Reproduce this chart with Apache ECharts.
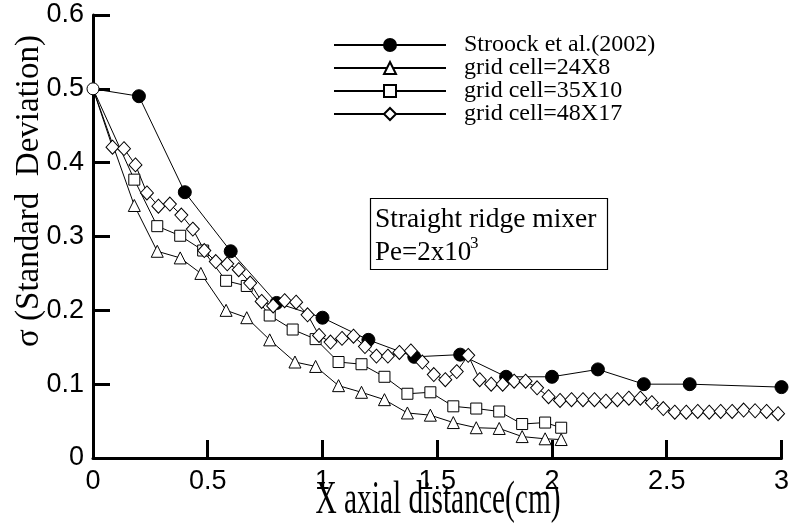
<!DOCTYPE html>
<html>
<head>
<meta charset="utf-8">
<script src="https://cdn.jsdelivr.net/npm/echarts@6/dist/echarts.min.js"></script>
<style>
html,body{margin:0;padding:0;background:#fff;}
#chart{width:792px;height:524px;}
</style>
</head>
<body>
<div id="chart"></div>
<script>
// ---- data ----
const seriesNames = ['Stroock et al.(2002)', 'grid cell=24X8', 'grid cell=35X10', 'grid cell=48X17'];

const stroockX = [0, 0.2, 0.4, 0.6, 0.8, 1.0, 1.2, 1.4, 1.6, 1.8, 2.0, 2.2, 2.4, 2.6, 3.0];
const stroockY = [0.5, 0.49, 0.36, 0.28, 0.21, 0.19, 0.16, 0.137, 0.14, 0.11, 0.11, 0.12, 0.1, 0.1, 0.096];

const grid24X = [0, 0.18, 0.28, 0.38, 0.47, 0.58, 0.67, 0.77, 0.88, 0.97, 1.07, 1.17, 1.27, 1.37, 1.47, 1.57, 1.67, 1.77, 1.87, 1.97, 2.04];
const grid24Y = [0.5, 0.342, 0.28, 0.271, 0.25, 0.2, 0.19, 0.16, 0.13, 0.124, 0.098, 0.089, 0.079, 0.061, 0.058, 0.048, 0.041, 0.04, 0.029, 0.026, 0.025];

const grid35X = [0, 0.18, 0.28, 0.38, 0.48, 0.58, 0.67, 0.77, 0.87, 0.97, 1.07, 1.17, 1.27, 1.37, 1.47, 1.57, 1.67, 1.77, 1.87, 1.97, 2.04];
const grid35Y = [0.5, 0.377, 0.314, 0.301, 0.281, 0.24, 0.233, 0.193, 0.174, 0.161, 0.13, 0.127, 0.11, 0.087, 0.089, 0.07, 0.067, 0.063, 0.046, 0.048, 0.041];

const grid48X = [0, 0.085, 0.135, 0.185, 0.235, 0.285, 0.335, 0.385, 0.435, 0.485, 0.535, 0.585, 0.635, 0.685, 0.735, 0.785, 0.835, 0.885, 0.935, 0.985,
  1.035, 1.085, 1.135, 1.185, 1.235, 1.285, 1.335, 1.385, 1.435, 1.485, 1.535, 1.585, 1.635, 1.685, 1.735, 1.785, 1.835, 1.885, 1.935, 1.985,
  2.035, 2.085, 2.135, 2.185, 2.235, 2.285, 2.335, 2.385, 2.435, 2.485, 2.535, 2.585, 2.635, 2.685, 2.735, 2.785, 2.835, 2.885, 2.935, 2.985];
const grid48Y = [0.5, 0.421, 0.419, 0.397, 0.359, 0.341, 0.344, 0.329, 0.31, 0.281, 0.266, 0.263, 0.255, 0.237, 0.212, 0.206, 0.213, 0.211, 0.194, 0.166,
  0.157, 0.162, 0.165, 0.151, 0.138, 0.138, 0.143, 0.145, 0.13, 0.113, 0.106, 0.117, 0.139, 0.106, 0.1, 0.1, 0.104, 0.104, 0.095, 0.083,
  0.078, 0.079, 0.079, 0.079, 0.077, 0.079, 0.081, 0.081, 0.075, 0.067, 0.062, 0.062, 0.063, 0.062, 0.063, 0.063, 0.065, 0.064, 0.063, 0.06];

const xTickLabels = ['0', '0.5', '1', '1.5', '2', '2.5', '3'];
const yTickLabels = ['0', '0.1', '0.2', '0.3', '0.4', '0.5', '0.6'];

// ---- build chart ----
const serif = "'Liberation Serif', 'Times New Roman', serif";
const sans = "'Liberation Sans', Arial, sans-serif";

function pairs(xs, ys, firstStyle) {
  return xs.map((x, i) => {
    if (i === 0 && firstStyle) return Object.assign({ value: [x, ys[i]] }, firstStyle);
    return [x, ys[i]];
  });
}

const openStyle = { color: '#fff', borderColor: '#000', borderWidth: 1 };

const chart = echarts.init(document.getElementById('chart'), null, { renderer: 'canvas' });
chart.setOption({
  animation: false,
  backgroundColor: '#fff',
  grid: { left: 93, right: 7, top: 15, bottom: 66, containLabel: false },
  legend: {
    left: 333, top: 33, orient: 'vertical', padding: 0,
    itemWidth: 112, itemHeight: 15, itemGap: -1,
    selectedMode: false,
    data: seriesNames,
    textStyle: { fontFamily: serif, fontSize: 24, color: '#000', lineHeight: 20, padding: [0, 0, 0, 13] }
  },
  xAxis: {
    type: 'value', min: 0, max: 3, interval: 0.5,
    axisLine: { show: true, lineStyle: { color: '#000', width: 3 } },
    axisTick: { show: true, inside: true, length: 18, lineStyle: { color: '#000', width: 3 } },
    splitLine: { show: false },
    axisLabel: {
      margin: 10, color: '#000', fontFamily: sans, fontSize: 27,
      formatter: (v) => xTickLabels[Math.round(v / 0.5)]
    }
  },
  yAxis: {
    type: 'value', min: 0, max: 0.6, interval: 0.1,
    axisLine: { show: true, lineStyle: { color: '#000', width: 3 } },
    axisTick: { show: true, inside: true, length: 17, lineStyle: { color: '#000', width: 3 } },
    splitLine: { show: false },
    axisLabel: {
      margin: 9, color: '#000', fontFamily: sans, fontSize: 27,
      formatter: (v) => yTickLabels[Math.round(v / 0.1)]
    }
  },
  series: [
    {
      name: seriesNames[0], type: 'line', symbol: 'circle', symbolSize: 13,
      itemStyle: { color: '#000', borderColor: '#000', borderWidth: 1 },
      lineStyle: { color: '#000', width: 1 },
      data: pairs(stroockX, stroockY, { itemStyle: openStyle, symbolSize: 12 })
    },
    {
      name: seriesNames[1], type: 'line', symbol: 'triangle', symbolSize: 12,
      itemStyle: openStyle, lineStyle: { color: '#000', width: 1 },
      data: pairs(grid24X, grid24Y, { symbol: 'none' })
    },
    {
      name: seriesNames[2], type: 'line', symbol: 'rect', symbolSize: 11,
      itemStyle: openStyle, lineStyle: { color: '#000', width: 1 },
      data: pairs(grid35X, grid35Y, { symbol: 'none' })
    },
    {
      name: seriesNames[3], type: 'line', symbol: 'diamond', symbolSize: [13, 14],
      itemStyle: openStyle, lineStyle: { color: '#000', width: 1 },
      data: pairs(grid48X, grid48Y, { symbol: 'none' })
    }
  ],
  graphic: [
    {
      type: 'rect', z: 100,
      shape: { x: 370.5, y: 198.5, width: 237, height: 71 },
      style: { fill: '#fff', stroke: '#000', lineWidth: 1.2 }
    },
    {
      type: 'text', z: 101, x: 375, y: 220,
      style: { text: 'Straight ridge mixer', fontFamily: serif, fontSize: 27.5, fill: '#000', textAlign: 'left', textVerticalAlign: 'middle' }
    },
    {
      type: 'text', z: 101, x: 375, y: 253,
      style: { text: 'Pe=2x10', fontFamily: serif, fontSize: 27, fill: '#000', textAlign: 'left', textVerticalAlign: 'middle' }
    },
    {
      type: 'text', z: 101, x: 470, y: 244,
      style: { text: '3', fontFamily: serif, fontSize: 17, fill: '#000', textAlign: 'left', textVerticalAlign: 'middle' }
    },
    {
      type: 'text', z: 101, x: 438, y: 501, scaleX: 0.64,
      style: { text: 'X axial distance(cm)', fontFamily: serif, fontSize: 46, fill: '#000', textAlign: 'center', textVerticalAlign: 'middle' }
    },
    {
      type: 'text', z: 101, x: 29, y: 191, rotation: Math.PI / 2,
      style: { text: 'σ (Standard  Deviation)', fontFamily: serif, fontSize: 33, fill: '#000', textAlign: 'center', textVerticalAlign: 'middle' }
    }
  ]
});
</script>
</body>
</html>
